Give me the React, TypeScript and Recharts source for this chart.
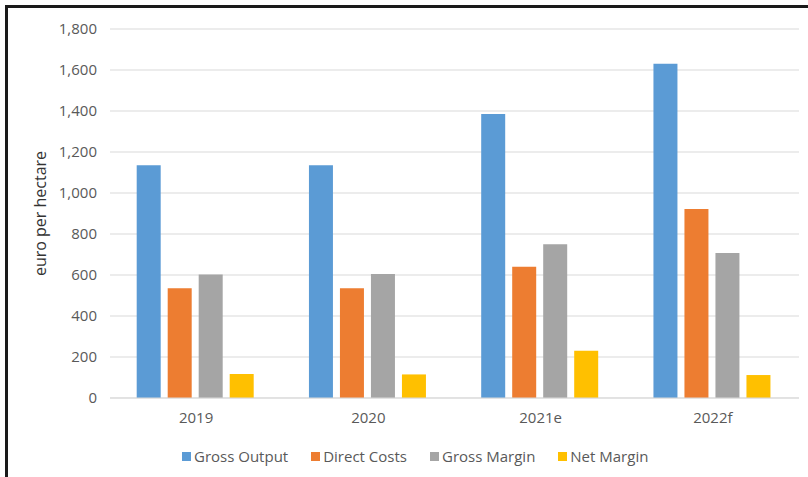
import { BarChart, Bar, XAxis, YAxis, CartesianGrid } from "recharts";

const years = ["2019", "2020", "2021e", "2022f"];
const grossOutput = [1135, 1135, 1385, 1630];
const directCosts = [535, 535, 640, 922];
const grossMargin = [603, 605, 750, 707];
const netMargin = [117, 115, 230, 112];
const yTicks = [0, 200, 400, 600, 800, 1000, 1200, 1400, 1600, 1800];

const series = [
  { key: "grossOutput", name: "Gross Output", color: "#5B9BD5" },
  { key: "directCosts", name: "Direct Costs", color: "#ED7D31" },
  { key: "grossMargin", name: "Gross Margin", color: "#A5A5A5" },
  { key: "netMargin", name: "Net Margin", color: "#FFC000" },
];

const data = years.map((year, i) => ({
  year,
  grossOutput: grossOutput[i],
  directCosts: directCosts[i],
  grossMargin: grossMargin[i],
  netMargin: netMargin[i],
}));

const FONT = "'Open Sans', 'Noto Sans', sans-serif";
const TEXT = "#595959";

export default function App() {
  return (
    <div
      style={{
        position: "fixed",
        left: 0,
        top: 0,
        width: 808,
        height: 477,
        background: "#fff",
        overflow: "hidden",
        fontFamily: FONT,
      }}
    >
      <div
        style={{
          position: "absolute",
          left: 5,
          top: 5,
          width: 820,
          height: 500,
          borderLeft: "3px solid #1a1a1a",
          borderTop: "3px solid #1a1a1a",
        }}
      />
      <div style={{ position: "absolute", left: 0, top: 0 }}>
        <BarChart
          width={808}
          height={477}
          data={data}
          margin={{ top: 29, right: 9, bottom: 49, left: 40 }}
          barCategoryGap="15.5%"
          barGap={7}
        >
          <CartesianGrid vertical={false} stroke="#d9d9d9" />
          <XAxis
            dataKey="year"
            height={30}
            axisLine={{ stroke: "#d9d9d9" }}
            tickLine={false}
            tickSize={0}
            tickMargin={14}
            tick={{ fontSize: 15, fill: TEXT, fontFamily: FONT }}
          />
          <YAxis
            width={70}
            domain={[0, 1800]}
            ticks={yTicks}
            axisLine={false}
            tickLine={false}
            tickSize={0}
            tickMargin={13}
            tickFormatter={(v: number) => v.toLocaleString("en-US")}
            tick={{ fontSize: 15, fill: TEXT, fontFamily: FONT }}
            label={{
              value: "euro per hectare",
              angle: -90,
              position: "insideLeft",
              offset: 0,
              style: { fontSize: 16, fill: "#333", fontFamily: FONT, textAnchor: "middle" },
            }}
          />
          {series.map((s) => (
            <Bar key={s.key} dataKey={s.key} name={s.name} fill={s.color} isAnimationActive={false} />
          ))}
        </BarChart>
      </div>
      <div
        style={{
          position: "absolute",
          left: 182,
          top: 446,
          display: "flex",
          alignItems: "center",
          fontSize: 15,
          color: TEXT,
          whiteSpace: "nowrap",
        }}
      >
        {series.map((s) => (
          <span key={s.key} style={{ display: "flex", alignItems: "center", marginRight: 23 }}>
            <span style={{ display: "inline-block", width: 9, height: 9, background: s.color, marginRight: 3 }} />
            {s.name}
          </span>
        ))}
      </div>
    </div>
  );
}
